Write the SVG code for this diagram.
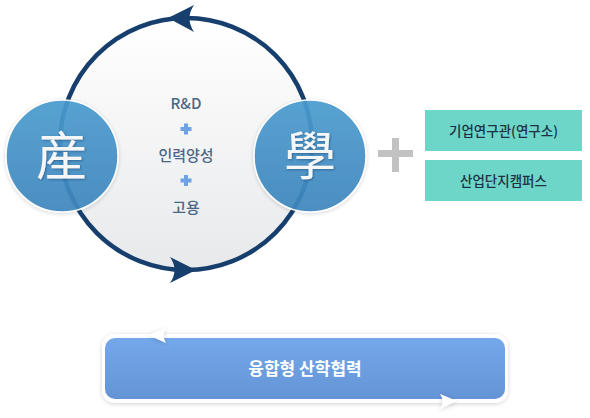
<svg xmlns="http://www.w3.org/2000/svg" width="590" height="418" viewBox="0 0 590 418">
<defs>
<linearGradient id="inner" x1="0" y1="0" x2="0" y2="1">
<stop offset="0" stop-color="#ffffff"/>
<stop offset="1" stop-color="#e8e9eb"/>
</linearGradient>
<linearGradient id="btn" x1="0" y1="0" x2="0" y2="1">
<stop offset="0" stop-color="#74a8ea"/>
<stop offset="1" stop-color="#6494d6"/>
</linearGradient>
<linearGradient id="ball" x1="0" y1="0" x2="0" y2="1">
<stop offset="0" stop-color="#4b9ccf"/>
<stop offset="1" stop-color="#3f86bd"/>
</linearGradient>
<filter id="sh" x="-20%" y="-20%" width="140%" height="140%">
<feDropShadow dx="0" dy="1" stdDeviation="2" flood-color="#000" flood-opacity="0.18"/>
</filter>
<filter id="tsh" x="-20%" y="-20%" width="140%" height="140%">
<feDropShadow dx="1" dy="1" stdDeviation="1" flood-color="#1b4a75" flood-opacity="0.6"/>
</filter>
</defs>
<style>
.k{font-family:"Noto Sans CJK KR","Noto Sans",sans-serif;text-anchor:middle}
.mid{font-size:15px;font-weight:500;fill:#4a6786}
.plus{fill:#6ea2e2}
.box{fill:#6dd6c9}
.boxt{font-size:13.5px;font-weight:500;fill:#1d3147}
.han{font-family:"Noto Sans CJK TC","Noto Sans CJK SC",serif;font-size:52px;font-weight:400;fill:#f4f6f8;text-anchor:middle}
.ball{fill:url(#ball);stroke:#ffffff;stroke-width:1.5;opacity:0.93}
</style>
<g id="cycle">
<circle cx="186" cy="144" r="124" fill="url(#inner)"/>
</g>
<g id="connectors">
<circle cx="186" cy="144" r="126" fill="none" stroke="#173f6e" stroke-width="4.5"/>
<path d="M168,18 L194,5 Q185,18 194,32 Z" fill="#173f6e"/>
<path d="M196,270 L170,257 Q179,270 170,283 Z" fill="#173f6e"/>
</g>
<g id="center-text">
<text class="k mid" x="186" y="109">R&amp;D</text>
<rect class="plus" x="180.5" y="127" width="11" height="4"/><rect class="plus" x="184" y="123.5" width="4" height="11"/>
<text class="k mid" x="186" y="161">인력양성</text>
<rect class="plus" x="180.5" y="178.5" width="11" height="4"/><rect class="plus" x="184" y="175" width="4" height="11"/>
<text class="k mid" x="186" y="213">고용</text>
</g>
<g id="node-industry">
<circle class="ball" cx="62" cy="156" r="56" filter="url(#sh)"/>
<text class="han" x="62" y="175" filter="url(#tsh)">産</text>
</g>
<g id="node-academy">
<circle class="ball" cx="310" cy="156" r="56" filter="url(#sh)"/>
<text class="han" x="310" y="175" filter="url(#tsh)">學</text>
</g>
<g id="plus-sign">
<rect x="378" y="150" width="35" height="7" fill="#c2c2c2"/>
<rect x="392" y="138" width="7" height="34" fill="#c2c2c2"/>
</g>
<g id="node-lab">
<rect class="box" x="425" y="110" width="157" height="41"/>
<text class="k boxt" x="503.5" y="135.5">기업연구관(연구소)</text>
</g>
<g id="node-campus">
<rect class="box" x="425" y="160" width="157" height="41"/>
<text class="k boxt" x="503.5" y="185.5">산업단지캠퍼스</text>
</g>
<g id="node-convergence">
<rect x="102" y="334" width="406" height="69" rx="13" fill="#ffffff" filter="url(#sh)"/>
<rect x="105" y="338" width="400" height="61" rx="10" fill="url(#btn)"/>
<text class="k" x="305" y="375" font-size="17" font-weight="700" fill="#ffffff">융합형 산학협력</text>
<path d="M148,335 L166,328 Q161,335 166,343 Z" fill="#ffffff" filter="url(#sh)"/>
<path d="M457,401 L440,394 Q445,401 440,409 Z" fill="#ffffff" filter="url(#sh)"/>
</g>
</svg>
